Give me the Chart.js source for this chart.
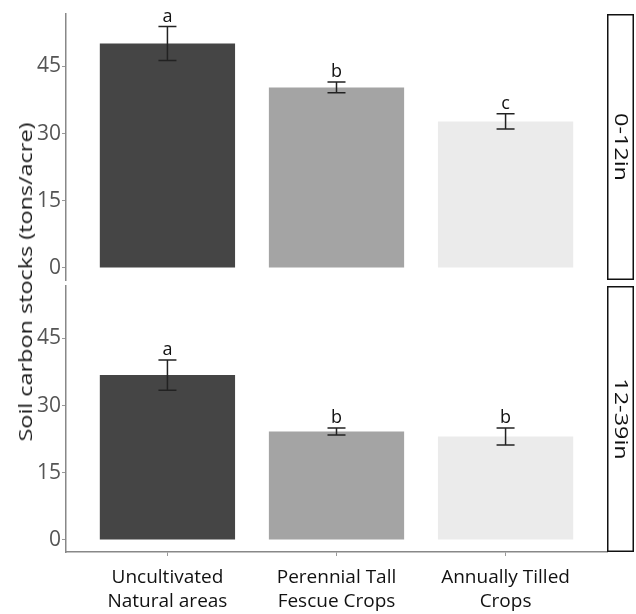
<!DOCTYPE html>
<html>
<head>
<meta charset="utf-8">
<script src="https://cdn.jsdelivr.net/npm/chart.js@4/dist/chart.umd.min.js"></script>
<style>
  body { margin: 0; background: #fff; }
  #wrap { position: relative; width: 636px; height: 614px; font-family: "Open Sans", sans-serif; }
  canvas { position: absolute; left: 0; }
  #ytitle {
    position: absolute; left: 25px; top: 282px;
    transform: translate(-50%, -50%) rotate(-90deg) scaleX(1.3);
    white-space: nowrap; font-size: 18px; color: #1a1a1a;
  }
</style>
</head>
<body>
<div id="wrap">
  <canvas id="top" width="636" height="283" style="top:0"></canvas>
  <canvas id="bottom" width="636" height="331" style="top:283px"></canvas>
  <div id="ytitle">Soil carbon stocks (tons/acre)</div>
</div>
<script>
// categories on the x axis (ggplot-style positions 1..3)
const categories = [["Uncultivated", "Natural areas"], ["Perennial Tall", "Fescue Crops"], ["Annually Tilled", "Crops"]];
const categoryPos = [1, 2, 3];
const depthLabels = ["0-12in", "12-39in"];

// 0-12in
const stockShallow = [50.1, 40.3, 32.7];
const errShallow = [3.8, 1.2, 1.7];
const letterShallow = ["a", "b", "c"];

// 12-39in
const stockDeep = [36.8, 24.2, 23.1];
const errDeep = [3.4, 0.8, 1.9];
const letterDeep = ["a", "b", "b"];

const yTicks = [0, 15, 30, 45];
const barColors = ["#454545", "#a4a4a4", "#ebebeb"];

const panelMarks = {
  id: "panelMarks",
  afterDatasetsDraw(chart, args, opts) {
    const ctx = chart.ctx;
    const y = chart.scales.y;
    const meta = chart.getDatasetMeta(0);
    ctx.save();
    meta.data.forEach((bar, i) => {
      const v = chart.data.datasets[0].data[i].y;
      const hi = y.getPixelForValue(v + opts.errs[i]);
      const lo = y.getPixelForValue(v - opts.errs[i]);
      ctx.strokeStyle = "#222";
      ctx.lineWidth = 1.5;
      ctx.beginPath();
      ctx.moveTo(bar.x, hi); ctx.lineTo(bar.x, lo);
      ctx.moveTo(bar.x - 9, hi); ctx.lineTo(bar.x + 9, hi);
      ctx.moveTo(bar.x - 9, lo); ctx.lineTo(bar.x + 9, lo);
      ctx.stroke();
      ctx.fillStyle = "#111";
      ctx.font = '18px "Open Sans", sans-serif';
      ctx.textAlign = "center";
      ctx.textBaseline = "alphabetic";
      ctx.fillText(opts.letters[i], bar.x, hi - 5);
    });
    // facet strip on the right
    const a = chart.chartArea;
    const sx = a.right, sw = 27;
    ctx.fillStyle = "#fff";
    ctx.fillRect(sx, a.top, sw, a.bottom - a.top);
    ctx.strokeStyle = "#111";
    ctx.lineWidth = 1.5;
    ctx.strokeRect(sx + 0.75, a.top + 0.75, sw - 1.5, a.bottom - a.top - 1.5);
    ctx.translate(sx + sw / 2, (a.top + a.bottom) / 2);
    ctx.rotate(Math.PI / 2);
    ctx.scale(1.3, 1);
    ctx.fillStyle = "#111";
    ctx.font = '18px "Open Sans", sans-serif';
    ctx.textAlign = "center";
    ctx.textBaseline = "middle";
    ctx.fillText(opts.strip, 0, 0);
    ctx.restore();
  }
};

function makePanel(id, values, errs, letters, strip, showX) {
  return new Chart(document.getElementById(id), {
    type: "bar",
    data: {
      datasets: [{
        data: categoryPos.map((p, i) => ({ x: p, y: values[i] })),
        backgroundColor: barColors,
        borderWidth: 0,
        categoryPercentage: 0.8,
        barPercentage: 1.0
      }]
    },
    options: {
      responsive: false,
      animation: false,
      devicePixelRatio: 1,
      layout: { padding: { top: showX ? 3 : 14, bottom: showX ? 0 : 3, left: 0, right: 29 } },
      plugins: {
        legend: { display: false },
        tooltip: { enabled: false },
        panelMarks: { errs: errs, letters: letters, strip: strip }
      },
      scales: {
        x: {
          type: "linear",
          min: 0.4,
          max: 3.6,
          offset: false,
          display: showX,
          afterBuildTicks: s => { s.ticks = categoryPos.map(v => ({ value: v })); },
          afterFit: s => { if (showX) s.height = 62; },
          grid: { offset: false, drawOnChartArea: false, drawTicks: true, tickLength: 4, color: "#999" },
          border: { display: true, color: "#888", width: 1.5 },
          ticks: {
            autoSkip: false,
            maxRotation: 0,
            padding: 9,
            color: "#111",
            font: { family: "Open Sans", size: 19, lineHeight: 1.3 },
            callback: v => categories[categoryPos.indexOf(v)]
          }
        },
        y: {
          min: -2.7,
          max: 56.7,
          afterBuildTicks: s => { s.ticks = yTicks.map(v => ({ value: v })); },
          afterFit: s => { s.width = 66; s.paddingTop = 0; s.paddingBottom = 0; },
          grid: { drawOnChartArea: false, drawTicks: true, tickLength: 4, color: "#999" },
          border: { display: true, color: "#888", width: 1.5 },
          ticks: {
            padding: 1,
            color: "#555",
            font: { family: "Open Sans", size: 21 }
          }
        }
      }
    },
    plugins: [panelMarks]
  });
}

makePanel("top", stockShallow, errShallow, letterShallow, depthLabels[0], false);
makePanel("bottom", stockDeep, errDeep, letterDeep, depthLabels[1], true);
</script>
</body>
</html>
